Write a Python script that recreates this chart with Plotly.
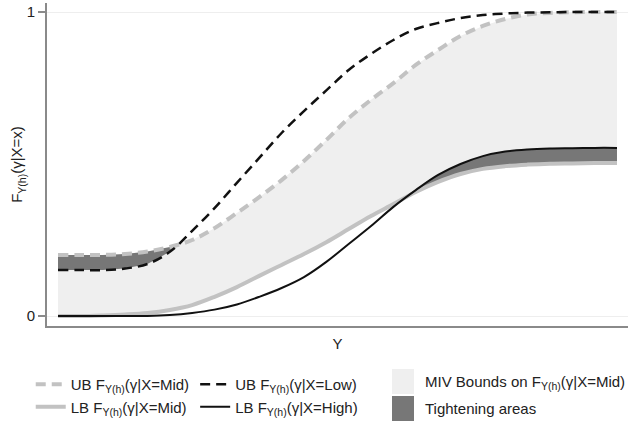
import plotly.graph_objects as go

# gamma grid (common to all series)
gamma = [0, 4, 8, 12, 16, 20, 24, 28, 32, 36, 40, 44, 48, 52, 56, 60, 64, 68,
         72, 76, 80, 84, 88, 92, 96, 100]

ub_low = [0.151, 0.151, 0.151, 0.156, 0.171, 0.211, 0.280, 0.355, 0.438, 0.520,
          0.602, 0.674, 0.742, 0.809, 0.862, 0.908, 0.944, 0.964, 0.980, 0.990,
          0.995, 0.998, 0.999, 1.0, 1.0, 1.0]
ub_mid = [0.201, 0.201, 0.201, 0.204, 0.212, 0.227, 0.250, 0.289, 0.339, 0.391,
          0.447, 0.510, 0.579, 0.651, 0.711, 0.766, 0.826, 0.875, 0.921, 0.954,
          0.977, 0.992, 0.997, 0.999, 1.0, 1.0]
lb_mid = [0.0, 0.0, 0.002, 0.005, 0.010, 0.020, 0.036, 0.063, 0.095, 0.132,
          0.168, 0.204, 0.243, 0.286, 0.329, 0.368, 0.408, 0.441, 0.467, 0.484,
          0.493, 0.498, 0.501, 0.502, 0.503, 0.503]
lb_high = [0.0, 0.0, 0.0, 0.0, 0.0, 0.003, 0.010, 0.021, 0.038, 0.063,
           0.092, 0.128, 0.178, 0.237, 0.296, 0.359, 0.414, 0.464, 0.500, 0.526,
           0.541, 0.548, 0.551, 0.552, 0.553, 0.553]

y_ticks = [0, 1]
y_ticklabels = ["0", "1"]


def envelope(xs, a, b, fn):
    """Pointwise min/max of two series, with their crossing points inserted."""
    ox, oy = [xs[0]], [fn(a[0], b[0])]
    for i in range(1, len(xs)):
        d0, d1 = a[i - 1] - b[i - 1], a[i] - b[i]
        if d0 * d1 < 0:
            t = d0 / (d0 - d1)
            ox.append(xs[i - 1] + t * (xs[i] - xs[i - 1]))
            oy.append(a[i - 1] + t * (a[i] - a[i - 1]))
        ox.append(xs[i])
        oy.append(fn(a[i], b[i]))
    return ox, oy


def at(xs, ys, xq):
    out = []
    for q in xq:
        for i in range(1, len(xs)):
            if xs[i - 1] <= q <= xs[i]:
                t = 0 if xs[i] == xs[i - 1] else (q - xs[i - 1]) / (xs[i] - xs[i - 1])
                out.append(ys[i - 1] + t * (ys[i] - ys[i - 1]))
                break
    return out


ux, uy = envelope(gamma, ub_mid, ub_low, min)
lx, ly = envelope(gamma, lb_mid, lb_high, max)

LIGHT = "#efefef"
DARK = "#777777"
GRAY = "#c2c2c2"
BLACK = "#111111"
FONT = "Liberation Sans, Arial, sans-serif"

fig = go.Figure()

# MIV bounds region
fig.add_trace(go.Scatter(x=ux + lx[::-1], y=uy + ly[::-1], fill="toself",
                         fillcolor=LIGHT, mode="none", hoverinfo="skip",
                         showlegend=False, name="MIV Bounds on F(γ|X=Mid)"))
# tightening areas (upper and lower)
um = at(gamma, ub_mid, ux)
fig.add_trace(go.Scatter(x=ux + ux[::-1], y=um + uy[::-1], fill="toself",
                         fillcolor=DARK, mode="none", hoverinfo="skip",
                         showlegend=False, name="Tightening areas"))
lm = at(gamma, lb_mid, lx)
fig.add_trace(go.Scatter(x=lx + lx[::-1], y=ly + lm[::-1], fill="toself",
                         fillcolor=DARK, mode="none", hoverinfo="skip",
                         showlegend=False, name="Tightening areas"))

# bound lines
fig.add_trace(go.Scatter(x=gamma, y=ub_mid, mode="lines", line_shape="spline",
                         line=dict(color=GRAY, width=4, dash="10px,6px"),
                         name="UB F<sub>Y(h)</sub>(γ|X=Mid)", legend="legend", legendrank=1))
fig.add_trace(go.Scatter(x=gamma, y=lb_mid, mode="lines", line_shape="spline",
                         line=dict(color=GRAY, width=4),
                         name="LB F<sub>Y(h)</sub>(γ|X=Mid)", legend="legend", legendrank=2))
fig.add_trace(go.Scatter(x=gamma, y=ub_low, mode="lines", line_shape="spline",
                         line=dict(color=BLACK, width=2.5, dash="10px,6px"),
                         name="UB F<sub>Y(h)</sub>(γ|X=Low)", legend="legend2", legendrank=1))
fig.add_trace(go.Scatter(x=gamma, y=lb_high, mode="lines", line_shape="spline",
                         line=dict(color=BLACK, width=2),
                         name="LB F<sub>Y(h)</sub>(γ|X=High)", legend="legend2", legendrank=2))

leg_common = dict(orientation="v", yanchor="top", y=-0.13, xanchor="left",
                  bgcolor="rgba(0,0,0,0)", font=dict(family=FONT, size=15, color="#222"),
                  itemwidth=30, tracegroupgap=0, traceorder="normal")

# third legend column (filled boxes), positioned in paper coords
PL, PW, PB, PH = 47, 581, 326, 323   # plot-area pixel geometry


def px(x):
    return (x - PL) / PW


def py(y):
    return (PB - y) / PH


shapes = [
    dict(type="rect", xref="paper", yref="paper", x0=px(392), x1=px(414),
         y0=py(394), y1=py(369), fillcolor=LIGHT, line_width=0, layer="above"),
    dict(type="rect", xref="paper", yref="paper", x0=px(392), x1=px(414),
         y0=py(421), y1=py(396), fillcolor=DARK, line_width=0, layer="above"),
]
annotations = [
    dict(xref="paper", yref="paper", x=px(423), y=py(382), xanchor="left",
         yanchor="middle", showarrow=False,
         text="MIV Bounds on F<sub>Y(h)</sub>(γ|X=Mid)",
         font=dict(family=FONT, size=15, color="#222")),
    dict(xref="paper", yref="paper", x=px(423), y=py(408), xanchor="left",
         yanchor="middle", showarrow=False, text="Tightening areas",
         font=dict(family=FONT, size=15, color="#222")),
]

fig.update_layout(
    width=643, height=438,
    margin=dict(l=PL, r=643 - PL - PW, t=3, b=438 - PB, autoexpand=False),
    paper_bgcolor="white", plot_bgcolor="white",
    font=dict(family=FONT, size=15, color="#222"),
    showlegend=True, hovermode=False,
    legend=dict(leg_common, x=-0.028),
    legend2=dict(leg_common, x=0.255),
    shapes=shapes, annotations=annotations,
    xaxis=dict(range=[-1.97, 101.97], showgrid=False, zeroline=False, automargin=False,
               showticklabels=False, ticks="", showline=True, linecolor="#8a8a8a",
               linewidth=2, title=dict(text="Y", standoff=11, font=dict(size=15))),
    yaxis=dict(range=[-0.0329, 1.0296], tickvals=y_ticks, ticktext=y_ticklabels,
               showgrid=True, gridcolor="#eeeeee", gridwidth=1, zeroline=False,
               automargin=False,
               ticks="outside", ticklen=7, tickcolor="#8a8a8a", tickwidth=1.5,
               showline=True, linecolor="#8a8a8a", linewidth=2,
               tickfont=dict(size=15),
               title=dict(text="F<sub>Y(h)</sub>(γ|X=x)", standoff=0, font=dict(size=15))),
)

fig.write_html("out.html", config={"displayModeBar": False},
               post_script="document.body.style.margin='0';document.body.style.overflow='hidden';")
